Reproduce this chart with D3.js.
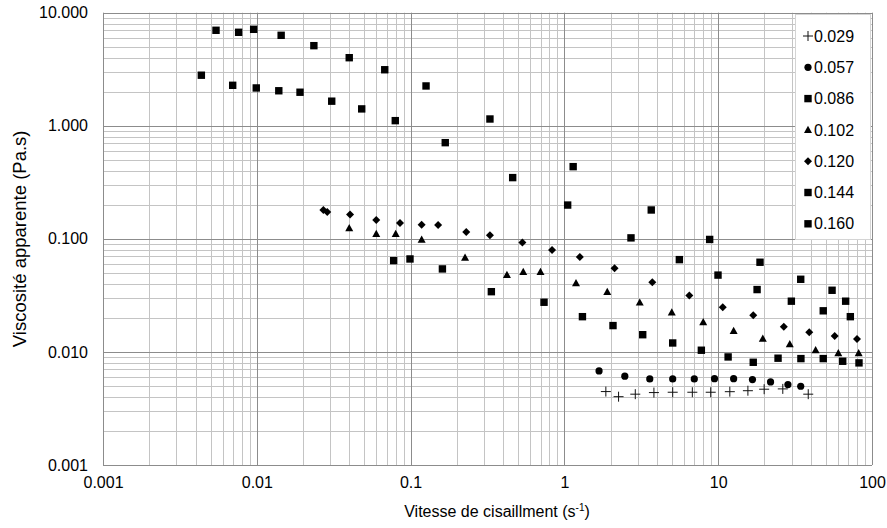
<!DOCTYPE html>
<html>
<head>
<meta charset="utf-8">
<script src="https://cdn.jsdelivr.net/npm/d3@7/dist/d3.min.js"></script>
<style>
  html, body { margin: 0; padding: 0; background: #fff; }
  svg { display: block; font-family: "Liberation Sans", Arial, sans-serif; }
</style>
</head>
<body>
<svg id="chart" width="887" height="528"></svg>
<script>
// ---- Data (shear rate in s^-1, apparent viscosity in Pa.s) ----
const seriesNames = ["0.029", "0.057", "0.086", "0.102", "0.120", "0.144", "0.160"];
const seriesShapes = ["plus", "circle", "square", "triangle", "diamond", "square", "square"];

const x029 = [1.86, 2.25, 2.89, 3.82, 5.06, 6.79, 8.94, 11.9, 15.6, 19.9, 26.3, 38.5];
const y029 = [0.00446, 0.00402, 0.00423, 0.00437, 0.0044, 0.0044, 0.0044, 0.00445, 0.00454, 0.00468, 0.00471, 0.00423];

const x057 = [1.68, 2.47, 3.59, 5.06, 6.99, 9.46, 12.6, 16.7, 21.9, 28.4, 34.4];
const y057 = [0.00679, 0.0061, 0.00577, 0.00577, 0.00577, 0.0058, 0.0058, 0.00569, 0.00543, 0.00514, 0.00497];

const x086 = [0.0776, 0.0991, 0.161, 0.335, 0.737, 1.31, 2.07, 3.23, 5.06, 7.77, 11.6, 16.9, 24.5, 34.5, 48.2, 64.5, 82.3];
const y086 = [0.0642, 0.0664, 0.0542, 0.0341, 0.0275, 0.0205, 0.0171, 0.0142, 0.0120, 0.01035, 0.00903, 0.0081, 0.0088, 0.00873, 0.00873, 0.00827, 0.0080];

const x102 = [0.0399, 0.0598, 0.080, 0.118, 0.226, 0.423, 0.54, 0.699, 1.19, 1.90, 3.09, 4.99, 7.99, 12.6, 19.5, 29.2, 43.0, 60.4, 81.9];
const y102 = [0.124, 0.1105, 0.1105, 0.0984, 0.0682, 0.048, 0.051, 0.051, 0.0405, 0.0339, 0.0273, 0.0223, 0.0183, 0.0153, 0.0131, 0.0117, 0.01035, 0.00974, 0.00974];

const x120 = [0.0271, 0.0287, 0.0404, 0.0598, 0.0853, 0.118, 0.151, 0.230, 0.328, 0.533, 0.831, 1.26, 2.12, 3.73, 6.49, 10.7, 16.9, 26.7, 39.1, 57.2, 79.9];
const y120 = [0.180, 0.173, 0.164, 0.147, 0.138, 0.1335, 0.1327, 0.1151, 0.1076, 0.0929, 0.0798, 0.0692, 0.055, 0.0413, 0.0315, 0.0248, 0.0211, 0.0167, 0.0149, 0.0138, 0.0130];

const x144 = [0.00436, 0.00697, 0.00992, 0.0139, 0.0191, 0.0307, 0.0481, 0.0795, 0.168, 0.461, 1.05, 2.71, 5.59, 9.97, 17.9, 29.9, 48.2, 72.3];
const y144 = [2.80, 2.28, 2.16, 2.04, 1.98, 1.65, 1.41, 1.11, 0.709, 0.348, 0.199, 0.102, 0.0655, 0.0478, 0.0356, 0.0281, 0.0231, 0.0205];

const x160 = [0.00543, 0.00762, 0.00954, 0.0144, 0.0235, 0.0399, 0.0679, 0.126, 0.328, 1.14, 3.67, 8.80, 18.7, 34.4, 55.0, 67.4];
const y160 = [6.99, 6.71, 7.13, 6.31, 5.11, 4.00, 3.13, 2.25, 1.148, 0.435, 0.180, 0.0988, 0.0621, 0.0439, 0.0351, 0.0281];

const seriesX = [x029, x057, x086, x102, x120, x144, x160];
const seriesY = [y029, y057, y086, y102, y120, y144, y160];

const xTickValues = [0.001, 0.01, 0.1, 1, 10, 100];
const xTickLabels = ["0.001", "0.01", "0.1", "1", "10", "100"];
const yTickValues = [0.001, 0.01, 0.1, 1, 10];
const yTickLabels = ["0.001", "0.010", "0.100", "1.000", "10.000"];

const xTitle = "Vitesse de cisaillment (s";
const yTitle = "Viscosité apparente (Pa.s)";

// ---- Layout ----
const W = 887, H = 528;
const plot = { left: 103, right: 872, top: 12.7, bottom: 465 };

const svg = d3.select("#chart");
const x = d3.scaleLog().domain([0.001, 100]).range([plot.left, plot.right]);
const y = d3.scaleLog().domain([0.001, 10]).range([plot.bottom, plot.top]);

// minor/major grid values
function logGrid(lo, hi) {
  const out = [];
  for (let e = Math.round(Math.log10(lo)); e < Math.round(Math.log10(hi)); e++) {
    for (let m = 1; m <= 9; m++) out.push({ v: m * Math.pow(10, e), major: m === 1 });
  }
  out.push({ v: hi, major: true });
  return out;
}

const grid = svg.append("g");
const xg = logGrid(0.001, 100), yg = logGrid(0.001, 10);
[false, true].forEach(maj => {
  grid.selectAll(null).data(yg.filter(d => d.major === maj)).enter().append("line")
    .attr("x1", plot.left).attr("x2", plot.right)
    .attr("y1", d => Math.round(y(d.v)) + 0.5).attr("y2", d => Math.round(y(d.v)) + 0.5)
    .attr("stroke", maj ? "#8c8c8c" : "#c4c4c4").attr("stroke-width", 1);
  grid.selectAll(null).data(xg.filter(d => d.major === maj)).enter().append("line")
    .attr("y1", plot.top).attr("y2", plot.bottom)
    .attr("x1", d => Math.round(x(d.v)) + 0.5).attr("x2", d => Math.round(x(d.v)) + 0.5)
    .attr("stroke", maj ? "#8c8c8c" : "#c4c4c4").attr("stroke-width", 1);
});

// axes (labels via d3 axes)
const xAxis = d3.axisBottom(x).tickValues(xTickValues)
  .tickFormat((d, i) => xTickLabels[i]).tickSize(0).tickPadding(12);
const gx = svg.append("g").attr("transform", `translate(0,${plot.bottom})`).call(xAxis);
gx.select(".domain").remove();
gx.selectAll("text").attr("font-size", 16).attr("fill", "#000")
  .attr("font-family", "Liberation Sans, Arial, sans-serif");

const yAxis = d3.axisLeft(y).tickValues(yTickValues)
  .tickFormat((d, i) => yTickLabels[i]).tickSize(0).tickPadding(15);
const gy = svg.append("g").attr("transform", `translate(${plot.left},0)`).call(yAxis);
gy.select(".domain").remove();
gy.selectAll("text").attr("font-size", 16).attr("fill", "#000")
  .attr("font-family", "Liberation Sans, Arial, sans-serif");

// axis titles
const xt = svg.append("text").attr("x", 497).attr("y", 517)
  .attr("text-anchor", "middle").attr("font-size", 16).attr("fill", "#000");
xt.append("tspan").text(xTitle);
xt.append("tspan").attr("dy", -6).attr("font-size", 10).text("-1");
xt.append("tspan").attr("dy", 6).text(")");

svg.append("text")
  .attr("transform", `translate(26,${(plot.top + plot.bottom) / 2}) rotate(-90)`)
  .attr("text-anchor", "middle").attr("font-size", 18.5).attr("fill", "#000")
  .text(yTitle);

// marker drawing
function drawMarker(g, shape) {
  if (shape === "plus") {
    g.append("line").attr("x1", -5).attr("x2", 5).attr("y1", 0).attr("y2", 0)
      .attr("stroke", "#111").attr("stroke-width", 1);
    g.append("line").attr("x1", 0).attr("x2", 0).attr("y1", -5).attr("y2", 5)
      .attr("stroke", "#111").attr("stroke-width", 1);
  } else if (shape === "circle") {
    g.append("circle").attr("r", 3.6).attr("fill", "#000");
  } else if (shape === "square") {
    g.append("rect").attr("x", -3.7).attr("y", -3.7).attr("width", 7.4).attr("height", 7.4).attr("fill", "#000");
  } else if (shape === "triangle") {
    g.append("path").attr("d", "M0,-4.2L4,3L-4,3Z").attr("fill", "#000");
  } else if (shape === "diamond") {
    g.append("path").attr("d", "M0,-4L4,0L0,4L-4,0Z").attr("fill", "#000");
  }
}

const marks = svg.append("g");
seriesNames.forEach((name, si) => {
  const pts = seriesX[si].map((xv, i) => ({ x: xv, y: seriesY[si][i] }));
  const gs = marks.append("g").attr("class", "series-" + name);
  gs.selectAll("g").data(pts).enter().append("g")
    .attr("transform", d => `translate(${x(d.x)},${y(d.y)})`)
    .each(function () { drawMarker(d3.select(this), seriesShapes[si]); });
});

// legend
const leg = svg.append("g");
leg.append("rect").attr("x", 795.5).attr("y", 14.5).attr("width", 75).attr("height", 225)
  .attr("fill", "#fff").attr("stroke", "#d4d4d4");
seriesNames.forEach((name, i) => {
  const cy = 36 + i * 31.3;
  const g = leg.append("g").attr("transform", `translate(808,${cy})`);
  drawMarker(g, seriesShapes[i]);
  leg.append("text").attr("x", 814).attr("y", cy).attr("dy", "0.35em")
    .attr("font-size", 16).attr("fill", "#000").text(name);
});
</script>
</body>
</html>
